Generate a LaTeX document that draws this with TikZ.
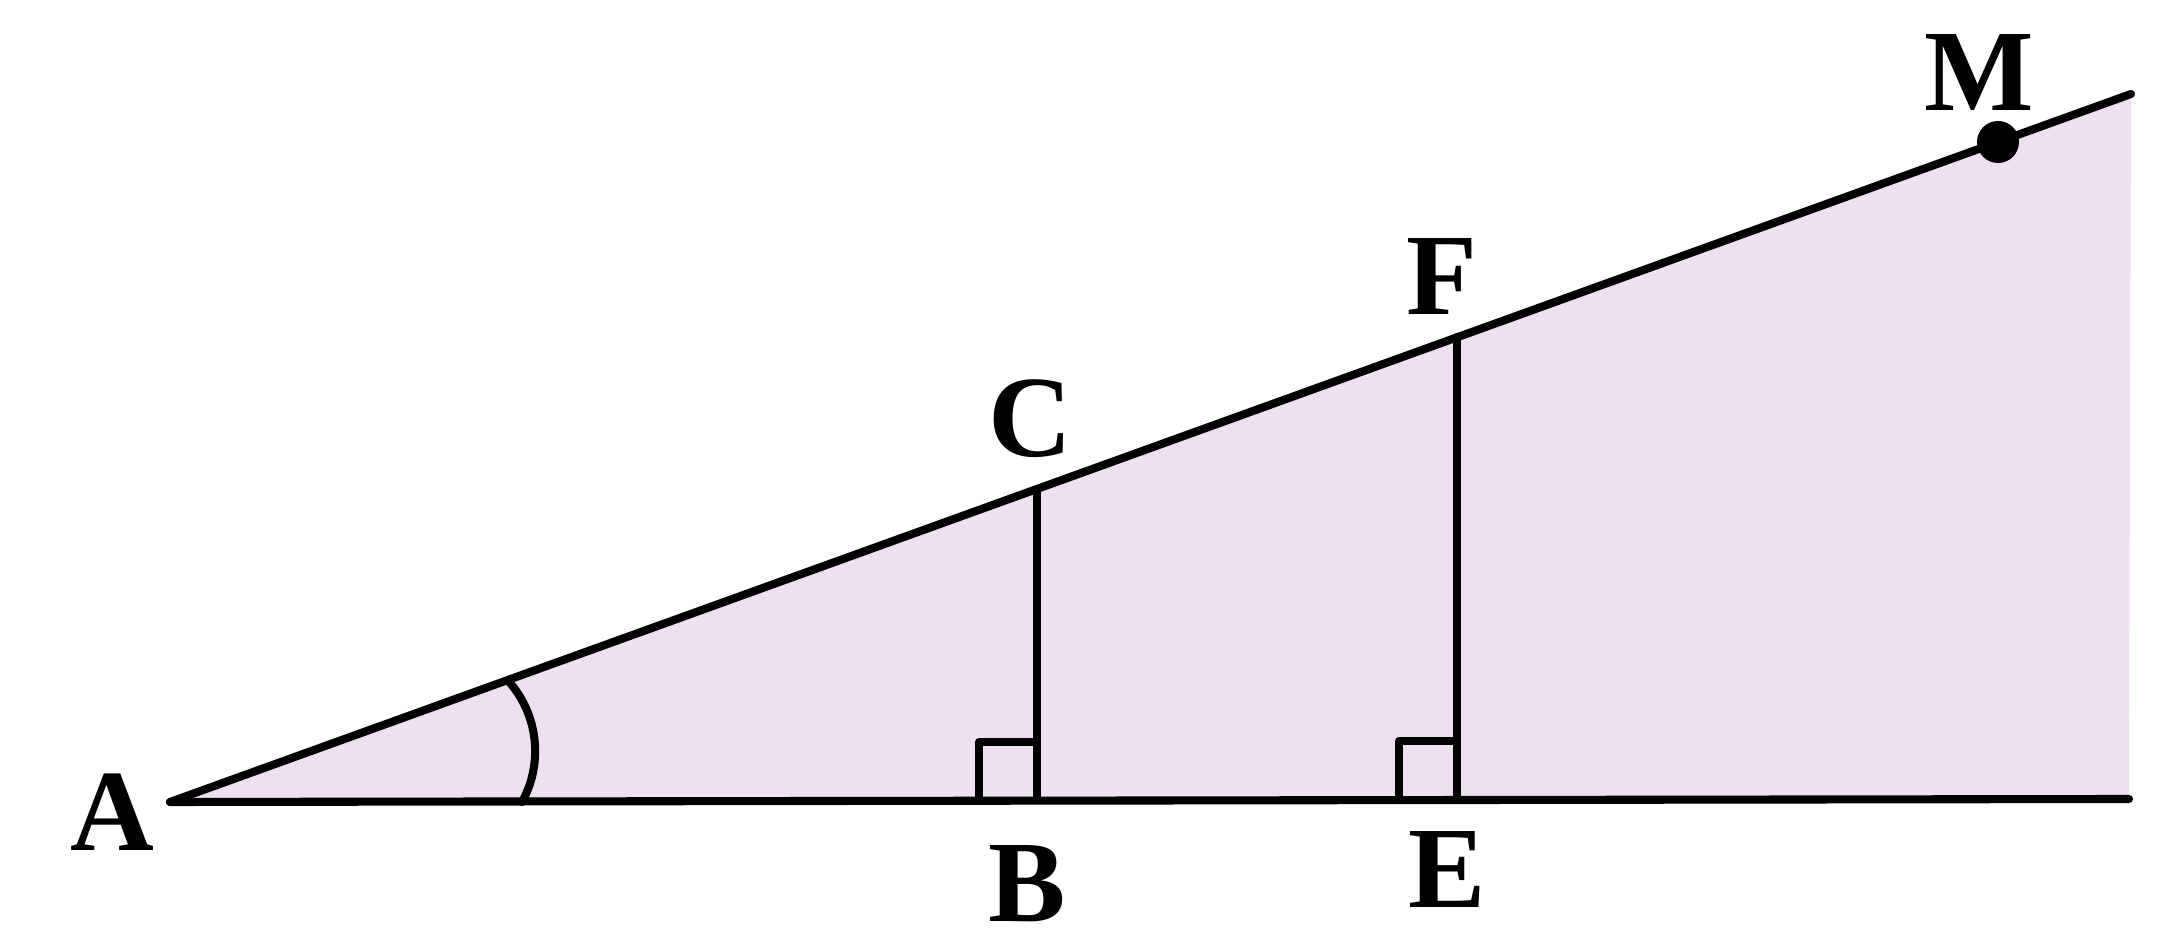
\documentclass[tikz,border=0pt]{standalone}
\usepackage{fontspec}
\setmainfont{Liberation Serif}[BoldFont={Liberation Serif Bold}]
\definecolor{fillpink}{RGB}{238,224,241}
\tikzset{
  geo/.style={line width=2.3pt, black, line cap=round, line join=round},
  lbl/.style={font=\fontsize{33}{36}\selectfont\bfseries, inner sep=0pt},
}
\begin{document}
\begin{tikzpicture}[x=0.01cm,y=-0.01cm]
\useasboundingbox (0,0) rectangle (2168,931);
\coordinate (A) at (170,802);
\coordinate (T) at (2131,94);
\coordinate (R) at (2129,799);
\coordinate (B) at (1037,800);
\coordinate (C) at (1037,489);
\coordinate (E) at (1457,799);
\coordinate (F) at (1457,337);
\coordinate (M) at (1998,142);
\coordinate (a1) at (522,802);
% fill
\fill[fillpink] (A) -- (T) -- (R) -- cycle;
% lines
\draw[geo] (A) -- (R);
\draw[geo] (A) -- (T);
\draw[geo] (B) -- (C);
\draw[geo] (E) -- (F);
% right angle squares
\draw[geo, line cap=butt] (B) ++(0,-58) -- ++(-58,0) -- ++(0,58);
\draw[geo, line cap=butt] (E) ++(0,-58) -- ++(-58,0) -- ++(0,58);
% angle arc
\draw[geo] (a1) arc[start angle=29, end angle=-42, radius=105];
% point M
\fill (M) circle[radius=21];
% labels
\node[lbl] (lA) at (112,812) {A};
\node[lbl] (lB) at (1027,884) {B};
\node[lbl] (lC) at (1030,419) {C};
\node[lbl] (lE) at (1447,870) {E};
\node[lbl] (lF) at (1442,277) {F};
\node[lbl] (lM) at (1979,73) {M};
\end{tikzpicture}
\end{document}
